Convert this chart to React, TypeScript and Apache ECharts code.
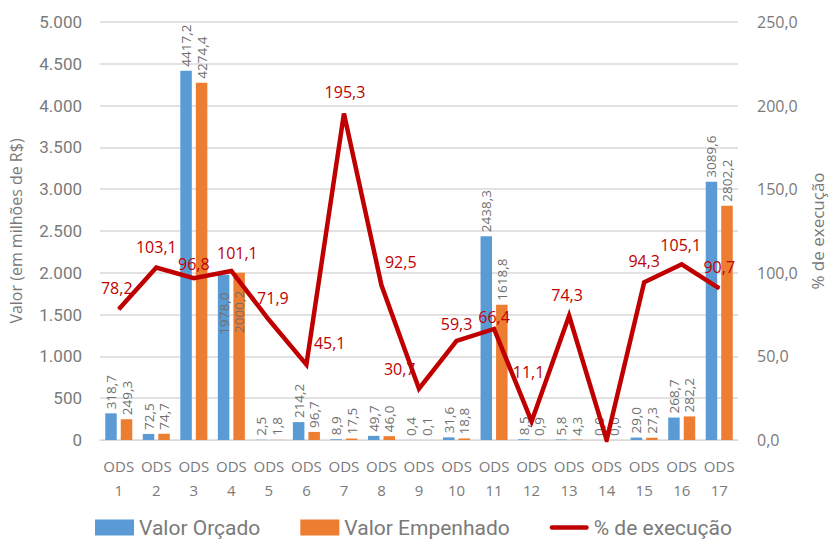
import React, { useEffect, useRef } from "react";
import * as echarts from "echarts";

const categories = ["ODS\n1", "ODS\n2", "ODS\n3", "ODS\n4", "ODS\n5", "ODS\n6", "ODS\n7", "ODS\n8", "ODS\n9", "ODS\n10", "ODS\n11", "ODS\n12", "ODS\n13", "ODS\n14", "ODS\n15", "ODS\n16", "ODS\n17"];
const valorOrcado = [318.7, 72.5, 4417.2, 1978.0, 2.5, 214.2, 8.9, 49.7, 0.4, 31.6, 2438.3, 8.5, 5.8, 0.0, 29.0, 268.7, 3089.6];
const valorEmpenhado = [249.3, 74.7, 4274.4, 2000.2, 1.8, 96.7, 17.5, 46.0, 0.1, 18.8, 1618.8, 0.9, 4.3, 0.0, 27.3, 282.2, 2802.2];
const execucao = [78.2, 103.1, 96.8, 101.1, 71.9, 45.1, 195.3, 92.5, 30.7, 59.3, 66.4, 11.1, 74.3, 0.0, 94.3, 105.1, 90.7];

// label placement tweaks for the % line (position, offset x, offset y, shown)
const lineLabelPos: [string, number, number, boolean][] = [
  ["top", -2, -8, true],
  ["top", 0, -7, true],
  ["top", 0, -1, true],
  ["top", 6, -4, true],
  ["top", 4, -8, true],
  ["right", 2, -22, true],
  ["top", 1, -8, true],
  ["right", -2, -23, true],
  ["left", 2, -20, true],
  ["top", 0, -3, true],
  ["top", 0, 2, true],
  ["top", -3, -36, true],
  ["top", -2, -7, true],
  ["top", 0, 0, false],
  ["top", 0, -8, true],
  ["top", -1, -6, true],
  ["top", 0, -8, true],
];

const fmt1 = (v: number) => v.toFixed(1).replace(".", ",");
const fmtThousands = (v: number) => String(v).replace(/\B(?=(\d{3})+(?!\d))/g, ".");

const GREY = "#7a7a7a";
const NUM_FONT = "'Open Sans', 'Noto Sans', sans-serif";
const DIN_FONT = "Roboto, 'Open Sans', sans-serif";

export default function App() {
  const ref = useRef<HTMLDivElement>(null);
  useEffect(() => {
    if (!ref.current) return;
    const chart = echarts.init(ref.current, null, { renderer: "svg" });
    const barLabel = {
      show: true,
      position: "top",
      rotate: 90,
      align: "left",
      verticalAlign: "middle",
      distance: 4,
      color: "#6f6f6f",
      fontSize: 13.5,
      fontFamily: NUM_FONT,
      formatter: (p: any) => fmt1(p.value),
    };
    const makeBarData = (arr: number[]) =>
      arr.map((v, i) =>
        i === 3
          ? { value: v, label: { position: "insideTop", align: "right", distance: 18 } }
          : v
      );
    const option: any = {
      animation: false,
      backgroundColor: "#ffffff",
      textStyle: { fontFamily: NUM_FONT },
      grid: {
        left: 100,
        right: 94,
        top: 22,
        bottom: 103,
        containLabel: false,
        outerBoundsMode: "none",
      },
      legend: {
        bottom: 0,
        left: 90,
        itemWidth: 39,
        itemHeight: 16,
        itemGap: 40,
        textStyle: { color: GREY, fontSize: 21, fontFamily: DIN_FONT },
        data: [
          { name: "Valor Orçado", icon: "rect" },
          { name: "Valor Empenhado", icon: "rect" },
          {
            name: "% de execução",
            icon: "path://M2.5,0 H40.5 A2.5,2.5 0 0 1 40.5,5 H2.5 A2.5,2.5 0 0 1 2.5,0 Z",
          },
        ],
      },
      xAxis: {
        type: "category",
        data: categories,
        axisTick: { show: false },
        axisLine: { lineStyle: { color: "#d9d9d9", width: 1 } },
        axisLabel: {
          color: GREY,
          fontSize: 15,
          fontFamily: NUM_FONT,
          lineHeight: 24,
          margin: 14,
          interval: 0,
        },
      },
      yAxis: [
        {
          type: "value",
          min: 0,
          max: 5000,
          interval: 500,
          name: "Valor (em milhões de R$)",
          nameLocation: "middle",
          nameRotate: 90,
          nameGap: 76,
          nameTextStyle: { color: GREY, fontSize: 16, fontFamily: NUM_FONT },
          axisLine: { show: false },
          axisTick: { show: false },
          splitLine: { lineStyle: { color: "#d9d9d9", width: 1.5 } },
          axisLabel: {
            color: GREY,
            fontSize: 17,
            margin: 18,
            fontFamily: DIN_FONT,
            formatter: (v: number) => fmtThousands(v),
          },
        },
        {
          type: "value",
          min: 0,
          max: 250,
          interval: 50,
          name: "% de execução",
          nameLocation: "middle",
          nameRotate: 90,
          nameGap: 68,
          nameTextStyle: { color: GREY, fontSize: 17, fontFamily: NUM_FONT },
          axisLine: { show: false },
          axisTick: { show: false },
          splitLine: { show: false },
          axisLabel: {
            color: GREY,
            fontSize: 16,
            margin: 19,
            fontFamily: NUM_FONT,
            formatter: (v: number) => fmt1(v),
          },
        },
      ],
      series: [
        {
          name: "Valor Orçado",
          type: "bar",
          data: makeBarData(valorOrcado),
          barWidth: 11.5,
          barGap: "35%",
          itemStyle: { color: "#5B9BD5" },
          label: barLabel,
          z: 2,
        },
        {
          name: "Valor Empenhado",
          type: "bar",
          data: makeBarData(valorEmpenhado),
          barWidth: 11.5,
          barGap: "35%",
          itemStyle: { color: "#ED7D31" },
          label: barLabel,
          z: 2,
        },
        {
          name: "% de execução",
          type: "line",
          yAxisIndex: 1,
          data: execucao.map((v, i) => {
            const [pos, dx, dy, show] = lineLabelPos[i];
            return { value: v, label: { show, position: pos, offset: [dx, dy] } };
          }),
          symbol: "circle",
          symbolSize: 1,
          showSymbol: true,
          lineStyle: { color: "#C00000", width: 4.5, join: "miter" },
          itemStyle: { color: "#C00000" },
          label: {
            show: true,
            color: "#C00000",
            fontSize: 16,
            fontFamily: NUM_FONT,
            formatter: (p: any) => fmt1(p.value),
          },
          z: 5,
        },
      ],
    };
    chart.setOption(option);
    return () => chart.dispose();
  }, []);
  return (
    <div
      ref={ref}
      style={{ position: "fixed", left: 0, top: 0, width: 832, height: 543 }}
    />
  );
}
